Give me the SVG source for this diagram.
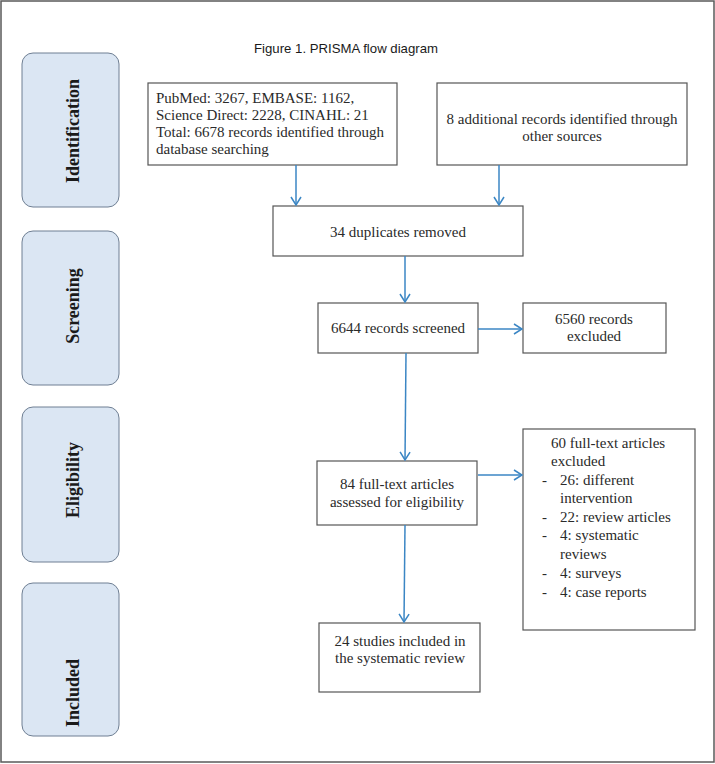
<svg xmlns="http://www.w3.org/2000/svg" width="715" height="764" viewBox="0 0 715 764">
<style>
.frame{fill:#fff;stroke:#5a5a5a;stroke-width:1.5}
.phase{fill:#dbe6f3;stroke:#6f7f93;stroke-width:1}
.ptxt{font-family:"Liberation Serif","Times New Roman",serif;font-size:18px;font-weight:bold;fill:#1a1a1a;text-anchor:middle}
.box{fill:#fff;stroke:#555;stroke-width:1.2}
.t{font-family:"Liberation Serif","Times New Roman",serif;font-size:15px;fill:#2a2a2a}
.c{text-anchor:middle}
.title{font-family:"Liberation Sans",Arial,sans-serif;font-size:13.2px;fill:#1a1a1a}
.arr{fill:none;stroke:#3b86c4;stroke-width:1.5;marker-end:url(#ah)}
</style>
<defs>
<marker id="ah" viewBox="0 0 10 12" refX="9" refY="6" markerWidth="10" markerHeight="12" markerUnits="userSpaceOnUse" orient="auto">
<path d="M1,1 L9,6 L1,11" fill="none" stroke="#3b86c4" stroke-width="1.5"/>
</marker>
</defs>
<rect class="frame" x="1" y="1" width="713" height="761"/>
<text class="title" x="254" y="53">Figure 1. PRISMA flow diagram</text>

<g id="phase-identification">
<rect class="phase" x="22" y="53" width="97" height="154" rx="11"/>
<text class="ptxt" transform="translate(79,131) rotate(-90)">Identification</text>
</g>
<g id="phase-screening">
<rect class="phase" x="22" y="231" width="97" height="154" rx="11"/>
<text class="ptxt" transform="translate(79,306) rotate(-90)">Screening</text>
</g>
<g id="phase-eligibility">
<rect class="phase" x="22" y="407" width="97" height="155" rx="11"/>
<text class="ptxt" transform="translate(79,480) rotate(-90)">Eligibility</text>
</g>
<g id="phase-included">
<rect class="phase" x="22" y="583" width="97" height="153" rx="11"/>
<text class="ptxt" transform="translate(79,693) rotate(-90)">Included</text>
</g>

<g id="db-search">
<rect class="box" x="148" y="83" width="249" height="82"/>
<text class="t" x="156" y="103">PubMed: 3267, EMBASE: 1162,</text>
<text class="t" x="156" y="120">Science Direct: 2228, CINAHL: 21</text>
<text class="t" x="156" y="137">Total: 6678 records identified through</text>
<text class="t" x="156" y="154">database searching</text>
</g>
<g id="other-sources">
<rect class="box" x="437" y="83" width="250" height="82"/>
<text class="t c" x="562" y="124">8 additional records identified through</text>
<text class="t c" x="562" y="141">other sources</text>
</g>
<g id="duplicates">
<rect class="box" x="273" y="206" width="250" height="50"/>
<text class="t c" x="398" y="237">34 duplicates removed</text>
</g>
<g id="screened">
<rect class="box" x="318" y="303" width="160" height="50"/>
<text class="t c" x="398" y="333">6644 records screened</text>
</g>
<g id="excluded-records">
<rect class="box" x="523" y="303" width="143" height="50"/>
<text class="t c" x="594" y="324">6560 records</text>
<text class="t c" x="594" y="341">excluded</text>
</g>
<g id="fulltext">
<rect class="box" x="317" y="461" width="160" height="64"/>
<text class="t c" x="397" y="489">84 full-text articles</text>
<text class="t c" x="397" y="507">assessed for eligibility</text>
</g>
<g id="fulltext-excluded">
<rect class="box" x="523" y="429" width="172" height="201"/>
<text class="t" x="551" y="448">60 full-text articles</text>
<text class="t" x="551" y="466">excluded</text>
<text class="t" x="542" y="485">-</text><text class="t" x="560" y="485">26: different</text>
<text class="t" x="560" y="503">intervention</text>
<text class="t" x="542" y="522">-</text><text class="t" x="560" y="522">22: review articles</text>
<text class="t" x="542" y="540">-</text><text class="t" x="560" y="540">4: systematic</text>
<text class="t" x="560" y="559">reviews</text>
<text class="t" x="542" y="578">-</text><text class="t" x="560" y="578">4: surveys</text>
<text class="t" x="542" y="597">-</text><text class="t" x="560" y="597">4: case reports</text>
</g>
<g id="included">
<rect class="box" x="319" y="623" width="161" height="69"/>
<text class="t c" x="400" y="646">24 studies included in</text>
<text class="t c" x="400" y="663">the systematic review</text>
</g>

<g id="connectors">
<line class="arr" x1="296" y1="165" x2="296" y2="205"/>
<line class="arr" x1="499" y1="165" x2="499" y2="205"/>
<line class="arr" x1="405" y1="256" x2="405" y2="302"/>
<line class="arr" x1="478" y1="329" x2="522" y2="329"/>
<line class="arr" x1="406" y1="353" x2="405" y2="460"/>
<line class="arr" x1="478" y1="475" x2="522" y2="475"/>
<line class="arr" x1="405" y1="525" x2="404" y2="622"/>
</g>
</svg>
